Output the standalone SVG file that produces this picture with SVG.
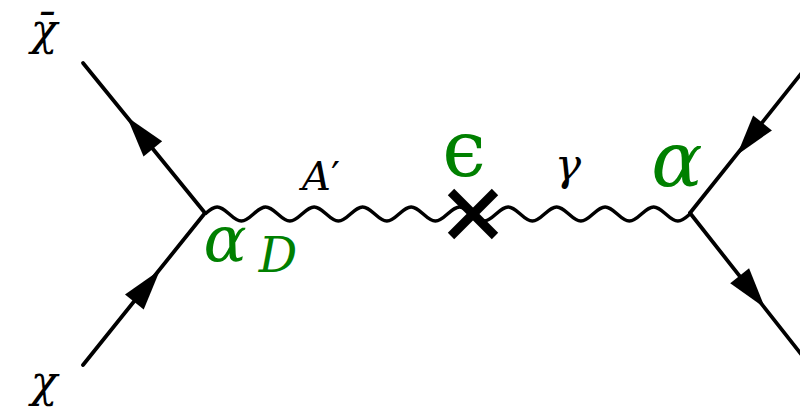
<svg xmlns="http://www.w3.org/2000/svg" xmlns:xlink="http://www.w3.org/1999/xlink" width="800" height="408" viewBox="0 0 800 408">
<style>
.fermion{stroke:#000;stroke-width:3.8;fill:none;stroke-linecap:round}
.photon{stroke:#000;stroke-width:3.5;fill:none}
.blk{fill:#000}
.grn{fill:#008000}
</style>
<defs>
<polygon id="arr" points="0,0 -41,-12 -41,12" fill="#000"/>
</defs>
<rect width="800" height="408" fill="#fff"/>
<g id="connectors">
<g id="chibar-line">
<line class="fermion" x1="205" y1="213" x2="83" y2="63"/>
<use xlink:href="#arr" transform="translate(127,117) rotate(-129.1)"/>
</g>
<g id="chi-line">
<line class="fermion" x1="83" y1="365" x2="205" y2="213"/>
<use xlink:href="#arr" transform="translate(160,270) rotate(-51.3)"/>
</g>
<g id="out-top">
<line class="fermion" x1="812" y1="60" x2="690" y2="213"/>
<use xlink:href="#arr" transform="translate(737,155) rotate(128.5)"/>
</g>
<g id="out-bottom">
<line class="fermion" x1="690" y1="213" x2="812" y2="368"/>
<use xlink:href="#arr" transform="translate(765,308) rotate(51.8)"/>
</g>
<path id="photon-Aprime" class="photon" d="M205,214 c3.954,-3.586 7.737,-7 12.125,-7 s8.171,3.414 12.125,7 s7.737,7 12.125,7 s8.171,-3.414 12.125,-7 s7.737,-7 12.125,-7 s8.171,3.414 12.125,7 s7.737,7 12.125,7 s8.171,-3.414 12.125,-7 s7.737,-7 12.125,-7 s8.171,3.414 12.125,7 s7.737,7 12.125,7 s8.171,-3.414 12.125,-7 s7.737,-7 12.125,-7 s8.171,3.414 12.125,7 s7.737,7 12.125,7 s8.171,-3.414 12.125,-7 s7.737,-7 12.125,-7 s8.171,3.414 12.125,7 s7.737,7 12.125,7 s8.171,-3.414 12.125,-7 s7.737,-7 12.125,-7 s8.171,3.414 12.125,7"/>
<path id="photon-gamma" class="photon" d="M471.75,214 c3.954,3.586 7.737,7 12.125,7 s8.171,-3.414 12.125,-7 s7.737,-7 12.125,-7 s8.171,3.414 12.125,7 s7.737,7 12.125,7 s8.171,-3.414 12.125,-7 s7.737,-7 12.125,-7 s8.171,3.414 12.125,7 s7.737,7 12.125,7 s8.171,-3.414 12.125,-7 s7.737,-7 12.125,-7 s8.171,3.414 12.125,7 s7.737,7 12.125,7 s8.171,-3.414 12.125,-7 s7.737,-7 12.125,-7 s8.171,3.414 12.125,7 s7.737,7 12.125,7 s8.171,-3.414 12.125,-7"/>
</g>
<g id="mixing-cross">
<line x1="451" y1="192" x2="495" y2="236" stroke="#000" stroke-width="9"/>
<line x1="495" y1="192" x2="451" y2="236" stroke="#000" stroke-width="9"/>
</g>
<g id="labels" font-family="DejaVu Serif, serif" font-style="italic" text-anchor="middle">
<text class="blk" x="44" y="45" font-size="44">χ̄</text>
<text class="blk" x="44" y="397" font-size="44">χ</text>
<text class="blk" x="321" y="190" font-size="40">A<tspan font-style="normal">′</tspan></text>
<text class="blk" x="568" y="180" font-size="44">γ</text>
<text class="grn" x="225" y="261" font-size="64">α</text>
<text class="grn" x="278" y="272" font-size="48">D</text>
<text class="grn" x="464" y="176" font-size="78" font-style="normal">ϵ</text>
<text class="grn" x="677" y="186" font-size="76">α</text>
</g>
</svg>
